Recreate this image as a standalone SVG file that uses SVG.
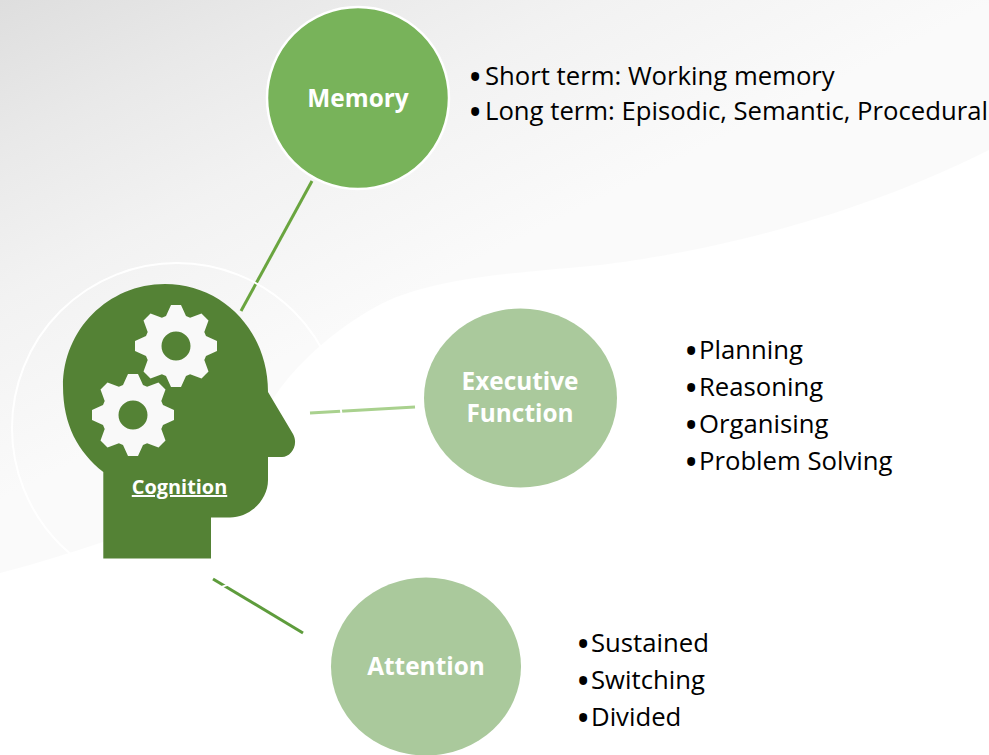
<svg xmlns="http://www.w3.org/2000/svg" xmlns:xlink="http://www.w3.org/1999/xlink" width="989" height="755" viewBox="0 0 989 755">
<style>
text{font-family:"Open Sans","Liberation Sans",sans-serif}
.n{font-size:24.400px;font-weight:700;fill:#fff;text-anchor:middle}
.b{font-size:25.700px;fill:#000}
.d{font-size:38px}
.l{fill:none;stroke-width:3}
</style>
<defs>
<linearGradient id="bg" gradientUnits="userSpaceOnUse" x1="0" y1="0" x2="200" y2="400">
<stop offset="0" stop-color="#dedede"/><stop offset="0.3" stop-color="#e9e9e9"/><stop offset="0.6" stop-color="#f2f2f2"/><stop offset="1" stop-color="#fafafa"/>
</linearGradient>
<path id="gear" fill="#f9f9f9" fill-rule="evenodd" d="M-10-30-5-41H5L10-30 14.100-28.300 25.500-32.500 32.500-25.500 28.300-14.100 30-10 41-5V5L30 10 28.300 14.100 32.500 25.500 25.500 32.500 14.100 28.300 10 30 5 41H-5L-10 30-14.100 28.300-25.500 32.500-32.500 25.500-28.300 14.100-30 10-41 5V-5L-30-10-28.300-14.100-32.500-25.500-25.500-32.500-14.100-28.300ZM14.500 0A14.500 14.500 0 1 0-14.500 0 14.500 14.500 0 1 0 14.500 0Z"/>
</defs>
<g id="background">
<rect width="989" height="755" fill="#fff"/>
<path d="M0 573C35 564 70 553 103 542 170 520 240 450 277 393 300 360 340 325 383 303 440 276 520 273 600 265 700 253 850 220 989 150V0H0Z" fill="url(#bg)"/>
</g>
<g id="connectors">
<path class="l" stroke="#6aa53f" d="M312 181 241 311"/>
<path class="l" stroke="#a9d18e" d="M310 413 415 407"/>
<path class="l" stroke="#5e9c3c" d="M213 579 303 633"/>
</g>
<circle id="ring" cx="177" cy="428" r="165" fill="none" stroke="#fff" stroke-width="2"/>
<g id="cognition">
<path fill="#548235" d="M103.300 472C78 452 63 425 63 386 63 330 108 284 165 284 222 284 268 330 268 392L293 434C299 445 291 457 282 457H268V480C268 500 250 517.500 230 517.500H211V558.500H103.300Z"/>
<use xlink:href="#gear" href="#gear" x="176" y="346"/>
<use xlink:href="#gear" href="#gear" x="133" y="415"/>
<text x="179.500" y="494" font-size="19.900" font-weight="700" fill="#fff" text-anchor="middle" text-decoration="underline">Cognition</text>
</g>
<g id="memory">
<circle cx="358" cy="98" r="91" fill="#78b35a" stroke="#fff" stroke-width="2.500"/>
<text class="n" x="358" y="107">Memory</text>
</g>
<g id="executive">
<ellipse cx="520.500" cy="398" rx="96.500" ry="89.500" fill="#aac99c"/>
<text class="n" x="520" y="390">Executive</text>
<text class="n" x="520" y="422">Function</text>
</g>
<g id="attention">
<ellipse cx="426" cy="666.500" rx="95" ry="89" fill="#aac99c"/>
<text class="n" x="426" y="675">Attention</text>
</g>
<g id="memory-text">
<text class="b" x="468" y="91"><tspan class="d">•</tspan><tspan x="485" y="85">Short term: Working memory</tspan></text>
<text class="b" x="468" y="126"><tspan class="d">•</tspan><tspan x="485" y="120">Long term: Episodic, Semantic, Procedural</tspan></text>
</g>
<g id="executive-text">
<text class="b" x="684" y="365"><tspan class="d">•</tspan><tspan x="699" y="359">Planning</tspan></text>
<text class="b" x="684" y="402"><tspan class="d">•</tspan><tspan x="699" y="396">Reasoning</tspan></text>
<text class="b" x="684" y="439"><tspan class="d">•</tspan><tspan x="699" y="433">Organising</tspan></text>
<text class="b" x="684" y="476"><tspan class="d">•</tspan><tspan x="699" y="470">Problem Solving</tspan></text>
</g>
<g id="attention-text">
<text class="b" x="576" y="658"><tspan class="d">•</tspan><tspan x="591" y="652">Sustained</tspan></text>
<text class="b" x="576" y="695"><tspan class="d">•</tspan><tspan x="591" y="689">Switching</tspan></text>
<text class="b" x="576" y="732"><tspan class="d">•</tspan><tspan x="591" y="726">Divided</tspan></text>
</g>
</svg>
